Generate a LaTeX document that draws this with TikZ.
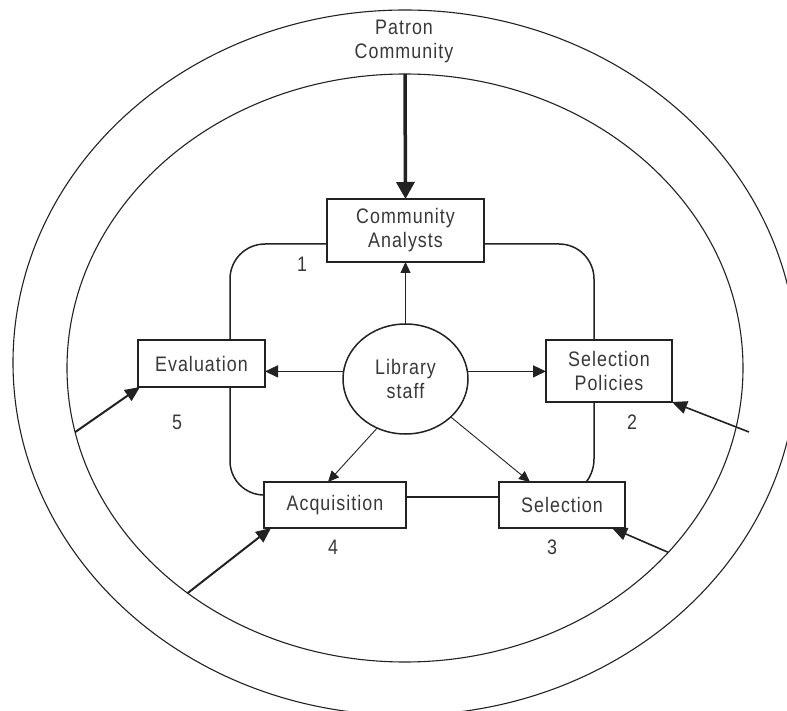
\documentclass[tikz,border=0pt]{standalone}
\usepackage{fontspec}
\setmainfont{Liberation Sans}[LetterSpace=5,FakeStretch=0.85]
\usetikzlibrary{arrows.meta,shapes.geometric,calc}
\pgfdeclarelayer{bg}
\pgfsetlayers{bg,main}
\definecolor{ink}{HTML}{222222}
\definecolor{txt}{HTML}{383838}
\begin{document}
\begin{tikzpicture}[x=1pt,y=-1pt,
  every node/.style={font=\fontsize{21}{24}\selectfont, text=txt},
  box/.style={draw=ink, line width=1.9pt, fill=white, inner sep=0pt, outer sep=0pt, align=center},
  loopline/.style={draw=ink, line width=1.5pt},
  ring/.style={draw=ink, line width=1.1pt},
  thinarrow/.style={draw=ink, line width=0.9pt, -{Triangle[length=11pt,width=10pt]}},
  midarrow/.style={draw=ink, line width=1.5pt, -{Triangle[length=13pt,width=12pt]}},
  extarrow/.style={draw=ink, line width=2pt, -{Triangle[length=15pt,width=13pt]}},
  extarrowb/.style={draw=ink, line width=1.6pt, -{Triangle[length=15pt,width=13pt]}},
  bigarrow/.style={draw=ink, line width=3.5pt, -{Triangle[length=17pt,width=18pt]}},
  num/.style={inner sep=0pt}
]
\useasboundingbox (0,0) rectangle (787,711);
\clip (0,0) rectangle (787,711);
\draw[ring] (405,362.6) ellipse [x radius=392, y radius=352.6];
\node[ring, ellipse, minimum width=676pt, minimum height=588pt, inner sep=0pt, outer sep=0pt] (inner) at (405,368) {};

\node[align=center, inner sep=0pt] (pc) at (404,41) {Patron\\Community};

\node[box, minimum width=157pt, minimum height=63pt] (ca) at (405.5,230.5) {Community\\Analysts};
\node[box, minimum width=127pt, minimum height=47pt] (ev) at (201.5,363.5) {Evaluation};
\node[box, minimum width=126pt, minimum height=62pt] (sp) at (609,371) {Selection\\Policies};
\node[box, minimum width=142pt, minimum height=46pt] (acq) at (335,505) {Acquisition};
\node[box, minimum width=126pt, minimum height=46pt] (sel) at (562,505) {Selection};
\node[draw=ink, line width=1.5pt, ellipse, fill=white, minimum width=125pt, minimum height=110pt, inner sep=0pt, outer sep=0pt, align=center] (lib) at (405.5,379) {Library\\staff};

\node[num] (n1) at (302,264) {1};
\node[num] (n2) at (632,422) {2};
\node[num] (n3) at (552,547) {3};
\node[num] (n4) at (333,547) {4};
\node[num] (n5) at (177,422) {5};

\coordinate (TL) at (230,244);
\coordinate (BL) at (230,495);
\coordinate (BR) at (594,497);
\begin{pgfonlayer}{bg}
\draw[loopline, rounded corners=35pt] (ca.west |- TL) -- (TL) -- (ev.north -| TL);
\draw[loopline, rounded corners=34pt] (ev.south -| TL) -- (BL) -- (acq.west |- BL);
\draw[loopline] (acq.east |- BR) -- (sel.west |- BR);
\draw[loopline, rounded corners=35pt] (ca.east |- TL) -- (TL -| BR) -- (sp.north -| BR);
\draw[loopline, rounded corners=38pt] (sp.south -| BR) -- (BR) -- (sel.west |- BR);
\end{pgfonlayer}

\draw[bigarrow] (inner.north) -- (ca.north);
\draw[thinarrow] (lib.north) -- (ca.south);
\draw[midarrow] (lib.173) -- (ev.east |- lib.173);
\draw[midarrow] (lib.7) -- (sp.west |- lib.7);
\draw[thinarrow] (lib.-120) -- ([xshift=-7pt]acq.north);
\draw[thinarrow] (lib.-40) -- ([xshift=-32pt]sel.north);
\draw[extarrow] (inner.191.7) -- ([xshift=2pt]ev.south west);
\draw[extarrow] (inner.226.4) -- ([xshift=7pt]acq.south west);
\coordinate (spin) at (749,432);
\draw[extarrowb] (spin) -- (sp.south east);
\draw[extarrowb] (inner.-35.4) -- ([xshift=-13pt]sel.south east);
\end{tikzpicture}
\end{document}
